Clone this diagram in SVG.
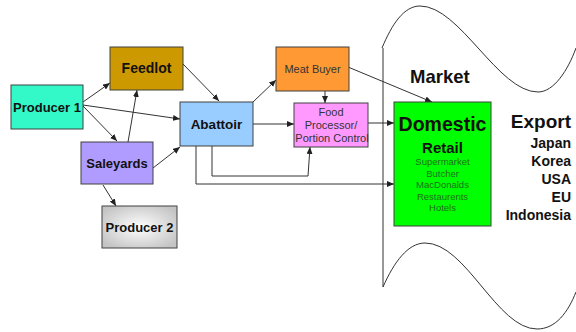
<svg xmlns="http://www.w3.org/2000/svg" width="576" height="332" viewBox="0 0 576 332">
<style>
.box{stroke:#404040;stroke-width:1}
.lbl{font-family:"Liberation Sans",Arial,sans-serif;font-weight:bold;font-size:13px;fill:#111;text-anchor:middle}
.sm{font-family:"Liberation Sans",Arial,sans-serif;font-size:11px;fill:#333;text-anchor:middle}
.lst{font-family:"Liberation Sans",Arial,sans-serif;font-size:9.5px;fill:#1f6f1f;text-anchor:middle}
.exp{font-family:"Liberation Sans",Arial,sans-serif;font-weight:bold;font-size:14px;fill:#111;text-anchor:end}
.c{stroke:#333;stroke-width:1;fill:none}
.a{marker-end:url(#ah)}
</style>
<defs>
<marker id="ah" markerUnits="userSpaceOnUse" markerWidth="7" markerHeight="6" refX="7" refY="3" orient="auto">
<path d="M0,0 L7,3 L0,6 z" fill="#222"/>
</marker>
<radialGradient id="g2" cx="50%" cy="50%" r="60%">
<stop offset="0" stop-color="#ffffff"/>
<stop offset="1" stop-color="#c4c4c4"/>
</radialGradient>
</defs>
<rect width="576" height="332" fill="#fff"/>
<g id="market">
<path class="c" d="M382,48 C392,24 404,6 420,6 C460,6 498,92 538,92 C554,92 568,70 576,48"/>
<path class="c" d="M383,48 L383,287"/>
<path class="c" d="M383,287 C394,262 408,243 425,243 C466,243 497,329 537,329 C556,329 568,312 576,292"/>
<text x="410" y="83" font-family="Liberation Sans,Arial,sans-serif" font-weight="bold" font-size="18.5" fill="#111">Market</text>
</g>
<g id="connectors">
<line class="c a" x1="83" y1="102" x2="110" y2="83"/>
<line class="c a" x1="83" y1="105" x2="180" y2="119"/>
<line class="c a" x1="83" y1="106" x2="117" y2="141"/>
<line class="c a" x1="128" y1="142" x2="137" y2="90"/>
<line class="c a" x1="183" y1="64" x2="219" y2="101"/>
<line class="c a" x1="153" y1="168" x2="180" y2="147"/>
<line class="c a" x1="103" y1="185" x2="116" y2="206"/>
<line class="c a" x1="253" y1="102" x2="276" y2="80"/>
<line class="c a" x1="253" y1="124" x2="294" y2="124"/>
<line class="c a" x1="325" y1="91" x2="325" y2="103"/>
<line class="c a" x1="348" y1="67" x2="432" y2="102"/>
<line class="c a" x1="368" y1="123" x2="394" y2="123"/>
<path class="c a" d="M212,146 L212,176 L308,176 L310,147"/>
<path class="c a" d="M196,146 L196,184 L394,184"/>
</g>
<g id="producer1">
<rect class="box" x="11" y="85" width="72" height="44" fill="#33f8c8"/>
<text class="lbl" x="47" y="112">Producer 1</text>
</g>
<g id="feedlot">
<rect class="box" x="110" y="47" width="73" height="43" fill="#cc9900"/>
<text class="lbl" x="146.5" y="73" style="font-size:14px">Feedlot</text>
</g>
<g id="abattoir">
<rect class="box" x="180" y="102" width="73" height="44" fill="#99ccff"/>
<text class="lbl" x="216.5" y="129" style="font-size:13.5px">Abattoir</text>
</g>
<g id="saleyards">
<rect class="box" x="81" y="142" width="72" height="42" fill="#b09cff"/>
<text class="lbl" x="117" y="168">Saleyards</text>
</g>
<g id="producer2">
<rect class="box" x="102" y="206" width="75" height="42" fill="url(#g2)"/>
<text class="lbl" x="139.5" y="232">Producer 2</text>
</g>
<g id="meatbuyer">
<rect class="box" x="276" y="47" width="73" height="44" fill="#ff9933"/>
<text class="sm" x="312.5" y="73">Meat Buyer</text>
</g>
<g id="foodprocessor">
<rect class="box" x="294" y="103" width="74" height="44" fill="#ff99ff"/>
<text class="sm" x="331" y="116">Food</text>
<text class="sm" x="331" y="129">Processor/</text>
<text class="sm" x="332" y="142">Portion Control</text>
</g>
<g id="domestic">
<rect class="box" x="394" y="102" width="97" height="124" fill="#00ff00"/>
<text class="lbl" x="442.5" y="131" style="font-size:19.5px">Domestic</text>
<text class="lbl" x="442.5" y="153" style="font-size:15px">Retail</text>
<text class="lst" x="442.5" y="165">Supermarket</text>
<text class="lst" x="442.5" y="176.5">Butcher</text>
<text class="lst" x="442.5" y="188">MacDonalds</text>
<text class="lst" x="442.5" y="199.5">Restaurents</text>
<text class="lst" x="442.5" y="211">Hotels</text>
</g>
<g id="export">
<text class="exp" x="571" y="128" style="font-size:19px">Export</text>
<text class="exp" x="571" y="148">Japan</text>
<text class="exp" x="571" y="166">Korea</text>
<text class="exp" x="571" y="184">USA</text>
<text class="exp" x="571" y="202">EU</text>
<text class="exp" x="571" y="220">Indonesia</text>
</g>
</svg>
